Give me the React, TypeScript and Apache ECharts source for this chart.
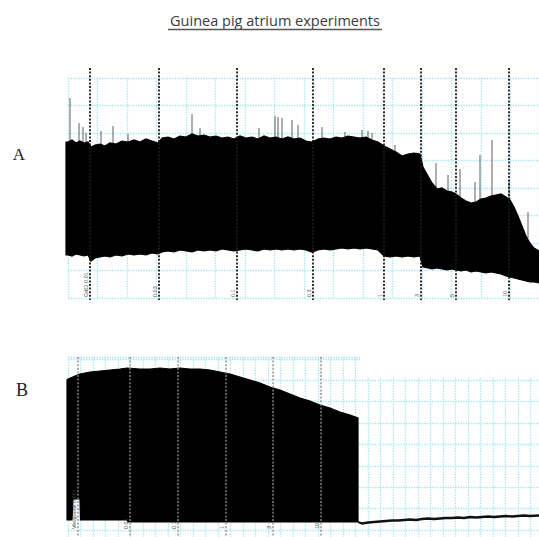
import React, { useEffect, useRef } from "react";
import * as echarts from "echarts";

const TITLE = "Guinea pig atrium experiments";
const PANEL_LABELS = ["A", "B"];

// ---------- Panel A (time in s, force in a.u.) ----------
const aTime = [-2, 0, 4, 8, 12, 16, 20, 23, 27, 32, 37, 42, 48, 54, 60, 66, 72, 78, 84, 90, 94, 100, 106, 112, 118, 124, 130, 136, 142, 148, 154, 160, 166, 172, 178, 184, 190, 196, 202, 208, 214, 220, 226, 232, 238, 244, 250, 256, 262, 268, 274, 280, 286, 292, 298, 304, 310, 316, 322, 328, 334, 340, 346, 352, 355, 360, 364, 369, 374, 379, 384, 388, 393, 398, 403, 408, 413, 418, 423, 428, 433, 438, 442, 446, 450, 454, 458, 462, 466, 471];
const aTop = [156, 156, 158, 155, 157, 155, 156, 151, 153, 154, 152, 155, 154, 157, 156, 158, 156, 159, 157, 155, 160, 161, 159, 162, 161, 164, 162, 163, 161, 162, 160, 161, 159, 162, 160, 161, 159, 162, 160, 161, 159, 161, 159, 160, 157, 156, 159, 160, 159, 161, 160, 162, 161, 160, 161, 158, 156, 152, 149, 146, 142, 144, 145, 144, 131, 122, 115, 109, 110, 107, 106, 104, 100, 97, 95, 96, 99, 100, 102, 103, 104, 101, 98, 91, 82, 72, 62, 55, 50, 47];
const aBottom = [43, 43, 42, 44, 43, 42, 43, 37, 40, 41, 42, 41, 43, 42, 44, 43, 44, 43, 45, 44, 46, 47, 46, 48, 47, 46, 48, 47, 48, 47, 49, 48, 47, 48, 49, 48, 47, 49, 48, 49, 48, 49, 48, 49, 48, 46, 48, 49, 48, 49, 50, 49, 50, 49, 50, 49, 48, 42, 41, 42, 41, 42, 41, 42, 31, 30, 29, 30, 29, 28, 29, 28, 27, 28, 26, 27, 26, 25, 26, 25, 24, 22, 21, 20, 19, 18, 17, 16, 16, 15];
const aSpikeTime = [2, 11, 15, 18, 33, 45, 60, 124, 132, 191, 207, 210, 214, 224, 230, 254, 277, 294, 300, 304, 327, 368, 380, 392, 407, 412, 424, 441, 460];
const aSpikeTip = [200, 175, 171, 165, 167, 172, 164, 184, 170, 170, 182, 181, 180, 178, 173, 171, 166, 168, 167, 165, 153, 135, 123, 129, 116, 143, 158, 118, 86];
const aMarkTime = [22, 91, 169, 245, 316, 353, 388, 441];
const aMarkLabel = ["GdCl 0.01", "0.03", "0.1", "0.3", "1", "3", "5", "10"];

// ---------- Panel B ----------
const bTopTime = [-1, 0, 7, 12, 22, 32, 42, 52, 59, 72, 82, 92, 102, 112, 122, 132, 142, 152, 162, 172, 182, 192, 202, 212, 222, 232, 242, 252, 262, 272, 282, 290];
const bTop = [150, 151, 154, 156, 158, 159, 160, 161, 162, 161, 161, 162, 161, 162, 161, 161, 160, 158, 156, 153, 150, 147, 143, 140, 136, 132, 129, 125, 122, 118, 115, 112];
const bBottomTime = [-1, 4, 5, 12, 12.5, 59, 60, 290];
const bBottom = [10, 10, 31, 31, 10, 10, 8, 8];
const bTraceTime = [290, 294, 300, 306, 312, 318, 324, 330, 336, 342, 348, 354, 360, 366, 372, 378, 384, 390, 396, 402, 408, 414, 420, 426, 432, 438, 444, 450, 456, 462, 471];
const bTrace = [8, 6.5, 7.5, 8, 8.5, 9, 9.5, 9.5, 10, 10.5, 10, 11, 11.5, 11, 11.5, 12, 12, 12.5, 12, 13, 12.5, 13, 13.5, 13, 13.5, 14, 13.5, 14, 14.5, 14, 14.5];
const bMarkTime = [10, 62, 110, 158, 205, 253];
const bMarkLabel = ["Verapamil 0.001", "0.01", "0.1", "1", "3", "10"];

const CYAN = "#9fe6ee";
const CANVAS_H = 560;

function hiddenAxis(extra: any) {
  return {
    type: "value",
    axisLine: { show: false },
    axisTick: { show: false },
    axisLabel: { show: false },
    splitLine: { show: true, lineStyle: { color: CYAN, type: "dotted", width: 1.3 } },
    ...extra,
  };
}

function bandItem(topT: number[], topV: number[], botT: number[], botV: number[]) {
  return (params: any, api: any) => {
    if (params.dataIndex !== 0) return null;
    const pts: number[][] = [];
    for (let i = 0; i < topT.length; i++) pts.push(api.coord([topT[i], topV[i]]));
    for (let i = botT.length - 1; i >= 0; i--) pts.push(api.coord([botT[i], botV[i]]));
    return {
      type: "polygon",
      shape: { points: pts },
      style: { fill: "#000", stroke: "#000", lineWidth: 1.2 },
    };
  };
}

function markerItem(labels: string[], color: string, lineWidth: number, topExt: number, botExt: number, labelColor: string) {
  return (params: any, api: any) => {
    const cs = params.coordSys;
    const x = api.coord([api.value(0), 0])[0];
    const y0 = cs.y - topExt;
    const y1 = cs.y + cs.height + botExt;
    const labelY = api.coord([0, 0])[1] - 1;
    return {
      type: "group",
      children: [
        {
          type: "line",
          shape: { x1: x, y1: y0, x2: x, y2: y1 },
          style: { stroke: color, lineWidth, lineDash: [2, 1.6] },
        },
        {
          type: "text",
          x: x - 4,
          y: labelY,
          rotation: Math.PI / 2,
          style: {
            text: labels[params.dataIndex],
            fontSize: 5.5,
            fontFamily: "Liberation Sans",
            fill: labelColor,
            align: "left",
            verticalAlign: "middle",
          },
        },
      ],
    };
  };
}

export default function App() {
  const ref = useRef<HTMLDivElement>(null);
  useEffect(() => {
    if (!ref.current) return;
    document.body.style.margin = "0";
    document.body.style.overflow = "hidden";
    const chart = echarts.init(ref.current, undefined, { renderer: "svg" });
    const option: any = {
      animation: false,
      backgroundColor: "#ffffff",
      grid: [
        { left: 68, right: 0, top: 78, bottom: CANVAS_H - 298 },
        { left: 68, right: 0, top: 357, bottom: CANVAS_H - 551.4 },
      ],
      xAxis: [
        hiddenAxis({ gridIndex: 0, min: 0, max: 471, interval: 29.5 }),
        hiddenAxis({ gridIndex: 1, min: 0, max: 471, interval: 12.5 }),
      ],
      yAxis: [
        hiddenAxis({ gridIndex: 0, min: 0, max: 220, interval: 27.5 }),
        hiddenAxis({ gridIndex: 1, min: -21.4, max: 173, interval: 21.4 }),
      ],
      graphic: [
        {
          type: "rect",
          z: 1,
          shape: { x: 360, y: 348, width: 179, height: 30 },
          style: { fill: "#ffffff" },
        },
        {
          type: "text",
          x: 275,
          y: 20,
          style: {
            text: TITLE,
            fontSize: 14.5,
            fontFamily: "Open Sans",
            fill: "#3a3a3a",
            align: "center",
            verticalAlign: "middle",
          },
        },
        {
          type: "line",
          shape: { x1: 168, y1: 29.5, x2: 382, y2: 29.5 },
          style: { stroke: "#555", lineWidth: 1.3 },
        },
        {
          type: "text",
          x: 19,
          y: 154,
          style: {
            text: PANEL_LABELS[0],
            fontSize: 17,
            fontFamily: "Liberation Serif",
            fill: "#222",
            align: "center",
            verticalAlign: "middle",
          },
        },
        {
          type: "text",
          x: 22,
          y: 390,
          style: {
            text: PANEL_LABELS[1],
            fontSize: 18,
            fontFamily: "Liberation Serif",
            fill: "#222",
            align: "center",
            verticalAlign: "middle",
          },
        },
      ],
      series: [
        {
          type: "custom",
          xAxisIndex: 0,
          yAxisIndex: 0,
          z: 2,
          clip: false,
          data: aSpikeTime.map((t, i) => [t, aSpikeTip[i]]),
          renderItem: (params: any, api: any) => {
            const p1 = api.coord([api.value(0), api.value(1)]);
            const p2 = api.coord([api.value(0), 60]);
            return {
              type: "line",
              shape: { x1: p1[0], y1: p1[1], x2: p2[0], y2: p2[1] },
              style: { stroke: "#5e5e5e", lineWidth: 1 },
            };
          },
        },
        {
          type: "custom",
          xAxisIndex: 0,
          yAxisIndex: 0,
          z: 3,
          clip: false,
          data: [[0, 0]],
          renderItem: bandItem(aTime, aTop, aTime, aBottom),
        },
        {
          type: "custom",
          xAxisIndex: 0,
          yAxisIndex: 0,
          z: 4,
          clip: false,
          data: aMarkTime.map((t) => [t, 0]),
          renderItem: markerItem(aMarkLabel, "#1a1a1a", 1.8, 10, 2, "#555"),
        },
        {
          type: "custom",
          xAxisIndex: 1,
          yAxisIndex: 1,
          z: 3,
          clip: false,
          data: [[0, 0]],
          renderItem: bandItem(bTopTime, bTop, bBottomTime, bBottom),
        },
        {
          type: "line",
          xAxisIndex: 1,
          yAxisIndex: 1,
          z: 3,
          symbol: "none",
          data: bTraceTime.map((t, i) => [t, bTrace[i]]),
          lineStyle: { color: "#111", width: 2.3 },
        },
        {
          type: "custom",
          xAxisIndex: 1,
          yAxisIndex: 1,
          z: 4,
          clip: false,
          data: bMarkTime.map((t) => [t, 0]),
          renderItem: markerItem(bMarkLabel, "#8c8c8c", 1.4, 0, 0, "#444"),
        },
      ],
    };
    chart.setOption(option);
    return () => chart.dispose();
  }, []);
  return (
    <div
      ref={ref}
      style={{ position: "fixed", left: 0, top: 0, width: 539, height: CANVAS_H, background: "#fff" }}
    />
  );
}
